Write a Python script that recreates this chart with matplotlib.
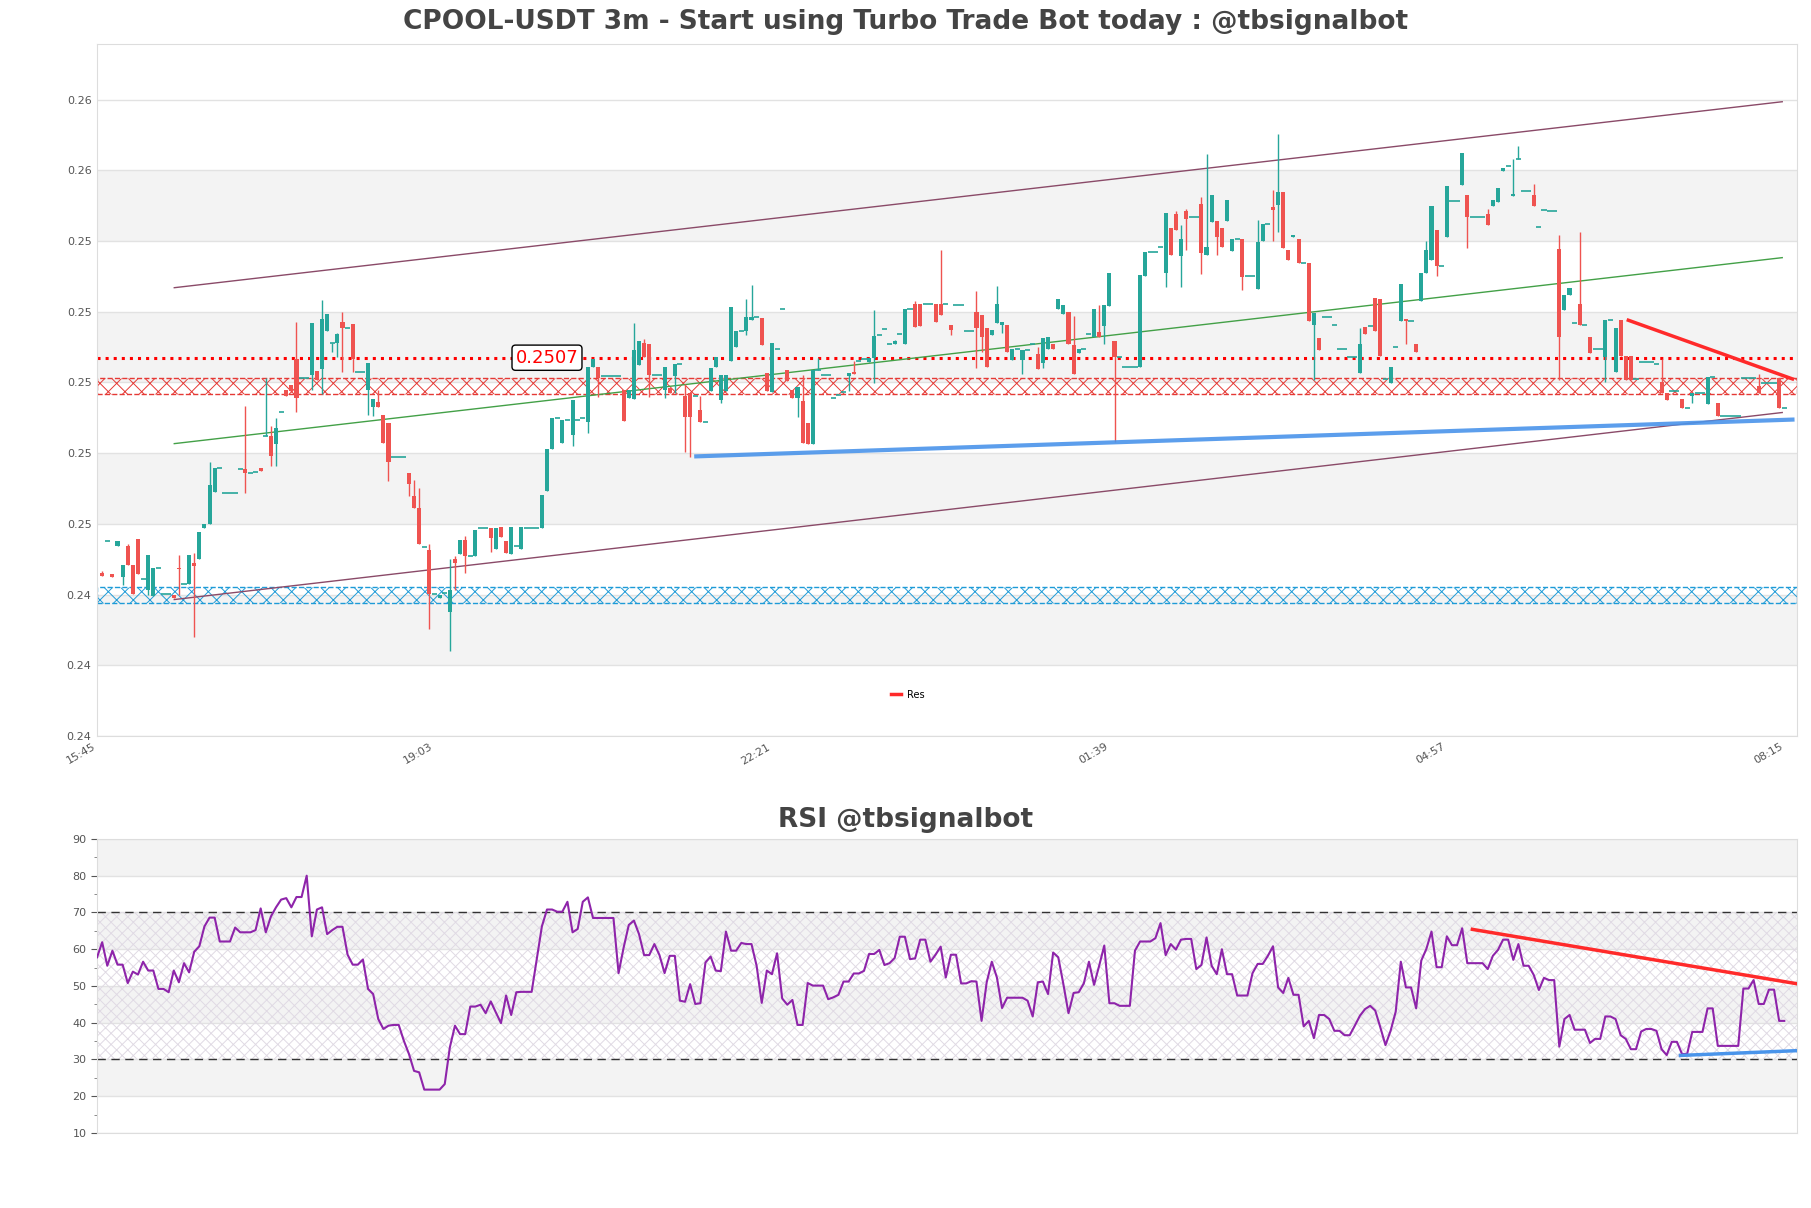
import numpy as np
import matplotlib.pyplot as plt
from matplotlib.ticker import FormatStrFormatter, MultipleLocator

# ---- candle data (3m candles) ----
opens = [
    .24460, .24551, .24459, .24537, .24450, .24537, .24485, .24556, .24444, .24412,
    .24397, .24474, .24403, .24403, .24400, .24475, .24431, .24431, .24490, .24501,
    .24589, .24601, .24690, .24759, .24686, .24686, .24686, .24754, .24754, .24744,
    .24746, .24759, .24848, .24848, .24825, .24916, .24980, .24994, .25065, .25013,
    .25013, .25020, .25032, .25039, .25145, .25112, .25112, .25172, .25155, .25166,
    .25030, .25030, .24978, .24930, .24945, .24908, .24884, .24790, .24790, .24790,
    .24744, .24678, .24644, .24534, .24525, .24403, .24391, .24405, .24350, .24501,
    .24516, .24554, .24510, .24508, .24589, .24589, .24589, .24528, .24592, .24551,
    .24516, .24537, .24528, .24588, .24588, .24588, .24588, .24693, .24813, .24899,
    .24829, .24894, .24851, .24894, .24899, .24889, .25045, .25045, .25017, .25017,
    .25017, .25017, .24980, .24955, .24953, .25050, .25112, .25110, .25020, .25020,
    .24980, .24985, .25017, .25052, .24962, .24970, .24963, .24922, .24889, .24977,
    .25043, .24951, .24977, .25060, .25100, .25145, .25145, .25178, .25186, .25183,
    .25027, .24973, .25095, .25207, .25036, .24979, .24957, .24948, .24884, .24827,
    .25036, .25020, .25020, .24957, .24965, .24972, .25017, .25031, .25062, .25067,
    .25058, .25069, .25133, .25150, .25110, .25110, .25136, .25109, .25209, .25221,
    .25221, .25221, .25221, .25221, .25221, .25222, .25162, .25219, .25219, .25146,
    .25146, .25200, .25191, .25153, .25134, .25169, .25162, .25162, .25064, .25094,
    .25064, .25092, .25109, .25080, .25056, .25094, .25109, .25207, .25193, .25200,
    .25106, .25084, .25094, .25137, .25129, .25144, .25160, .25217, .25118, .25073,
    .25043, .25043, .25043, .25045, .25302, .25368, .25368, .25382, .25310, .25438,
    .25476, .25357, .25485, .25468, .25468, .25504, .25360, .25454, .25456, .25438,
    .25457, .25371, .25407, .25407, .25301, .25301, .25263, .25400, .25449, .25496,
    .25501, .25539, .25374, .25410, .25405, .25338, .25339, .25162, .25125, .25184,
    .25184, .25162, .25096, .25096, .25073, .25073, .25026, .25156, .25159, .25238,
    .25236, .25010, .24999, .25100, .25173, .25180, .25173, .25110, .25229, .25311,
    .25346, .25431, .25328, .25410, .25514, .25514, .25558, .25530, .25469, .25469,
    .25469, .25476, .25499, .25511, .25598, .25612, .25527, .25633, .25541, .25541,
    .25530, .25440, .25489, .25485, .25485, .25377, .25206, .25246, .25168, .25223,
    .25163, .25129, .25095, .25095, .25072, .25177, .25029, .25177, .25074, .25074,
    .25010, .25058, .25058, .25058, .25053, .25002, .24971, .24977, .24977, .24952,
    .24929, .24962, .24971, .24971, .24938, .25016, .24943, .24905, .24905, .24905,
    .24905, .25013, .25013, .25013, .24990, .24999, .24999, .24999, .25013, .24929,
]
closes = [
    .24452, .24551, .24450, .24553, .24485, .24485, .24403, .24457, .24444, .24513,
    .24474, .24474, .24403, .24403, .24389, .24472, .24431, .24513, .24480, .24576,
    .24601, .24711, .24759, .24759, .24686, .24686, .24686, .24754, .24744, .24744,
    .24746, .24749, .24848, .24793, .24872, .24916, .24963, .24975, .24957, .25013,
    .25013, .25169, .25006, .25180, .25194, .25112, .25136, .25153, .25155, .25067,
    .25030, .25030, .25056, .24954, .24930, .24829, .24775, .24790, .24790, .24790,
    .24714, .24644, .24542, .24534, .24403, .24403, .24400, .24405, .24412, .24490,
    .24554, .24510, .24510, .24584, .24589, .24589, .24561, .24589, .24563, .24518,
    .24592, .24537, .24592, .24588, .24588, .24588, .24683, .24813, .24899, .24899,
    .24894, .24894, .24951, .24894, .24899, .25045, .25067, .25012, .25017, .25017,
    .25017, .25017, .24892, .24980, .25093, .25118, .25072, .25020, .25020, .25020,
    .25045, .24970, .25052, .25052, .24903, .24903, .24963, .24889, .24889, .25041,
    .25072, .25022, .25020, .25214, .25145, .25145, .25186, .25186, .25186, .25107,
    .24977, .25112, .25095, .25207, .25003, .24957, .24988, .24830, .24827, .25036,
    .25036, .25020, .25020, .24957, .24965, .24972, .25028, .25024, .25062, .25067,
    .25069, .25131, .25133, .25150, .25110, .25116, .25136, .25209, .25209, .25157,
    .25159, .25221, .25221, .25171, .25192, .25222, .25148, .25219, .25219, .25146,
    .25146, .25153, .25129, .25043, .25148, .25222, .25172, .25087, .25094, .25094,
    .25092, .25092, .25109, .25037, .25125, .25128, .25094, .25235, .25219, .25109,
    .25024, .25094, .25094, .25137, .25209, .25128, .25219, .25311, .25073, .25073,
    .25043, .25043, .25043, .25304, .25368, .25368, .25368, .25382, .25480, .25360,
    .25432, .25405, .25461, .25468, .25468, .25367, .25384, .25529, .25412, .25384,
    .25517, .25407, .25407, .25299, .25301, .25301, .25398, .25449, .25449, .25489,
    .25539, .25379, .25346, .25418, .25338, .25338, .25175, .25197, .25092, .25184,
    .25184, .25162, .25096, .25096, .25073, .25073, .25109, .25137, .25159, .25145,
    .25074, .25010, .25044, .25100, .25279, .25173, .25173, .25085, .25311, .25375,
    .25499, .25330, .25328, .25555, .25514, .25514, .25649, .25469, .25469, .25469,
    .25469, .25445, .25517, .25551, .25607, .25612, .25534, .25633, .25541, .25541,
    .25499, .25440, .25489, .25485, .25485, .25129, .25248, .25267, .25168, .25163,
    .25163, .25084, .25095, .25095, .25177, .25177, .25154, .25074, .25008, .25007,
    .25010, .25058, .25058, .25058, .25053, .24971, .24950, .24977, .24977, .24929,
    .24929, .24969, .24971, .24971, .25016, .25016, .24905, .24905, .24905, .24905,
    .24905, .25013, .25013, .25013, .24971, .24999, .24999, .24999, .24929, .24929,
]
highs = [
    .24468, .24551, .24459, .24553, .24485, .24542, .24485, .24556, .24444, .24513,
    .24474, .24474, .24403, .24403, .24400, .24513, .24431, .24513, .24518, .24576,
    .24601, .24775, .24759, .24759, .24686, .24686, .24686, .24754, .24933, .24744,
    .24746, .24759, .25013, .24877, .24900, .24916, .24980, .24994, .25171, .25013,
    .25013, .25169, .25032, .25232, .25194, .25112, .25140, .25200, .25155, .25166,
    .25030, .25030, .25056, .24954, .24978, .24908, .24884, .24790, .24790, .24790,
    .24744, .24723, .24702, .24534, .24542, .24403, .24400, .24405, .24501, .24508,
    .24554, .24566, .24510, .24584, .24589, .24589, .24589, .24589, .24592, .24551,
    .24592, .24537, .24592, .24588, .24588, .24588, .24683, .24813, .24899, .24899,
    .24894, .24894, .24951, .24894, .24899, .25045, .25067, .25045, .25017, .25017,
    .25017, .25017, .24980, .24980, .25169, .25118, .25124, .25110, .25020, .25020,
    .25045, .24985, .25052, .25052, .24995, .24970, .24963, .24962, .24889, .25041,
    .25072, .25022, .25020, .25214, .25145, .25145, .25235, .25275, .25186, .25183,
    .25027, .25112, .25095, .25207, .25036, .24979, .24988, .25020, .24884, .25036,
    .25069, .25020, .25020, .24957, .24965, .24972, .25028, .25062, .25062, .25067,
    .25069, .25204, .25133, .25150, .25110, .25120, .25136, .25209, .25209, .25230,
    .25221, .25221, .25221, .25221, .25374, .25222, .25162, .25219, .25219, .25146,
    .25146, .25260, .25191, .25153, .25148, .25273, .25172, .25162, .25094, .25094,
    .25092, .25092, .25109, .25100, .25125, .25128, .25109, .25235, .25219, .25200,
    .25187, .25094, .25094, .25137, .25209, .25220, .25219, .25311, .25118, .25073,
    .25043, .25043, .25043, .25304, .25368, .25368, .25368, .25382, .25480, .25438,
    .25485, .25445, .25490, .25468, .25468, .25525, .25647, .25529, .25456, .25438,
    .25517, .25407, .25407, .25407, .25301, .25301, .25459, .25449, .25449, .25543,
    .25702, .25539, .25374, .25418, .25405, .25338, .25339, .25197, .25125, .25184,
    .25184, .25162, .25096, .25096, .25073, .25073, .25153, .25156, .25159, .25238,
    .25236, .25010, .25044, .25100, .25279, .25180, .25173, .25110, .25311, .25400,
    .25499, .25431, .25328, .25555, .25514, .25514, .25649, .25530, .25469, .25469,
    .25469, .25490, .25517, .25551, .25607, .25612, .25633, .25668, .25541, .25541,
    .25561, .25440, .25489, .25485, .25485, .25417, .25248, .25267, .25168, .25426,
    .25163, .25129, .25095, .25095, .25177, .25177, .25154, .25177, .25074, .25074,
    .25010, .25058, .25058, .25058, .25053, .25067, .24971, .24977, .24977, .24952,
    .24929, .24969, .24971, .24971, .25016, .25016, .24943, .24905, .24905, .24905,
    .24905, .25013, .25013, .25013, .25023, .24999, .24999, .24999, .25013, .24929,
]
lows = [
    .24452, .24551, .24450, .24537, .24428, .24485, .24403, .24457, .24444, .24400,
    .24397, .24474, .24403, .24403, .24389, .24400, .24431, .24431, .24279, .24501,
    .24589, .24601, .24690, .24759, .24686, .24686, .24686, .24754, .24686, .24744,
    .24746, .24749, .24848, .24763, .24763, .24916, .24963, .24975, .24916, .25013,
    .25013, .24978, .25006, .24966, .25145, .25086, .25073, .25030, .25155, .25030,
    .25030, .25030, .24908, .24906, .24930, .24829, .24721, .24790, .24790, .24790,
    .24678, .24644, .24542, .24534, .24303, .24403, .24391, .24405, .24240, .24414,
    .24516, .24461, .24510, .24508, .24589, .24589, .24520, .24528, .24563, .24518,
    .24516, .24537, .24528, .24588, .24588, .24588, .24588, .24693, .24813, .24899,
    .24829, .24894, .24820, .24894, .24899, .24858, .25045, .24960, .25017, .25017,
    .25017, .25017, .24892, .24955, .24953, .25050, .25072, .24960, .25020, .25020,
    .24955, .24970, .24970, .25052, .24804, .24790, .24963, .24889, .24889, .24977,
    .25043, .24942, .24977, .25060, .25100, .25145, .25135, .25178, .25186, .25107,
    .24977, .24973, .25095, .25207, .25003, .24957, .24902, .24830, .24827, .24827,
    .25036, .25020, .25020, .24957, .24965, .24972, .24975, .25024, .25062, .25067,
    .25058, .24999, .25133, .25150, .25110, .25110, .25136, .25109, .25209, .25157,
    .25159, .25221, .25221, .25171, .25192, .25222, .25135, .25219, .25219, .25146,
    .25146, .25040, .25085, .25043, .25134, .25169, .25140, .25087, .25064, .25094,
    .25023, .25092, .25109, .25037, .25040, .25094, .25094, .25207, .25193, .25109,
    .25024, .25084, .25094, .25137, .25129, .25128, .25110, .25217, .24833, .25073,
    .25043, .25043, .25043, .25045, .25302, .25368, .25368, .25382, .25270, .25360,
    .25432, .25270, .25375, .25468, .25468, .25306, .25360, .25454, .25360, .25384,
    .25457, .25371, .25407, .25262, .25301, .25301, .25263, .25400, .25449, .25400,
    .25425, .25379, .25346, .25410, .25338, .25338, .25175, .25007, .25092, .25184,
    .25184, .25162, .25096, .25096, .25073, .25073, .25026, .25137, .25159, .25145,
    .25074, .25010, .24999, .25100, .25173, .25109, .25173, .25085, .25229, .25311,
    .25346, .25301, .25328, .25410, .25514, .25514, .25558, .25380, .25469, .25469,
    .25469, .25445, .25499, .25511, .25598, .25612, .25527, .25633, .25541, .25541,
    .25499, .25440, .25489, .25485, .25485, .25008, .25206, .25246, .25168, .25163,
    .25163, .25084, .25095, .25095, .25000, .25177, .25029, .25074, .25008, .25007,
    .25010, .25058, .25058, .25058, .25053, .24971, .24950, .24977, .24977, .24929,
    .24929, .24941, .24971, .24971, .24938, .25016, .24905, .24905, .24905, .24905,
    .24905, .25013, .25013, .25013, .24971, .24999, .24999, .24999, .24929, .24929,
]

# RSI values, one per bar position (starts one bar before the first candle)
rsi = [
    57.8, 61.9, 55.5, 59.6, 55.8, 55.8, 50.8, 53.9, 53.1, 56.6,
    54.2, 54.2, 49.2, 49.2, 48.3, 54.2, 51.0, 56.2, 53.7, 59.3,
    60.8, 66.2, 68.6, 68.6, 62.1, 62.1, 62.1, 65.9, 64.6, 64.6,
    64.6, 65.2, 71.1, 64.6, 68.9, 71.4, 73.5, 73.9, 71.4, 74.2,
    74.2, 80.0, 63.5, 70.8, 71.4, 64.1, 65.2, 66.1, 66.1, 58.5,
    55.8, 55.8, 57.2, 49.2, 47.8, 41.0, 38.3, 39.2, 39.4, 39.4,
    35.1, 31.5, 26.9, 26.5, 21.8, 21.8, 21.8, 21.8, 23.3, 33.3,
    39.2, 36.9, 36.9, 44.4, 44.4, 44.9, 42.6, 45.8, 42.8, 39.9,
    47.4, 42.1, 48.3, 48.4, 48.4, 48.4, 57.3, 66.2, 70.8, 70.8,
    70.2, 70.2, 72.9, 64.6, 65.5, 72.9, 74.1, 68.5, 68.5, 68.5,
    68.5, 68.5, 53.5, 60.5, 66.6, 67.8, 64.1, 58.4, 58.4, 61.4,
    58.4, 53.5, 58.2, 58.2, 46.0, 45.7, 50.5, 45.1,
    45.3, 56.4, 58.0, 54.2, 54.0, 64.8, 59.6, 59.6, 61.7, 61.4,
    61.4, 55.5, 45.4, 54.2, 53.2, 58.9, 46.6, 44.9, 46.2, 39.4,
    39.4, 50.8, 50.1, 50.1, 50.1, 46.4, 46.9, 47.6, 51.2, 51.2,
    53.4, 53.4, 54.1, 58.7, 58.7, 59.8, 55.7, 56.2, 57.6, 63.4,
    63.4, 57.3, 57.5, 62.6, 62.6, 56.6, 58.5, 60.7, 52.3, 58.5,
    58.5, 50.7, 50.7, 51.3, 51.2, 40.5, 51.0, 56.6, 52.3, 44.0,
    46.8, 46.8, 46.8, 46.8, 46.0, 41.7, 51.0, 51.2, 47.8, 59.1,
    57.8, 50.5, 42.6, 48.1, 48.3, 50.7, 56.6, 50.3, 55.5, 61.0,
    45.3, 45.3, 44.6, 44.6, 44.6, 59.6, 62.1, 62.1, 62.1, 63.0,
    67.1, 58.4, 61.4, 59.9, 62.6, 62.8, 62.8, 54.6, 55.7, 63.2,
    55.5, 53.2, 60.0, 53.2, 53.2, 47.4, 47.4, 47.4, 53.5, 56.0,
    56.0, 58.2, 60.8, 49.6, 48.1, 52.2,
    47.6, 47.6, 39.0, 40.5, 35.8, 42.1, 42.1, 41.0, 37.8, 37.8,
    36.6, 36.6, 39.2, 41.9, 43.7, 44.6, 43.3, 38.7, 33.9, 37.8,
    43.0, 56.6, 49.6, 49.6, 43.9, 56.9, 60.1, 64.8, 55.1, 55.1,
    63.5, 61.1, 61.1, 65.7, 56.2, 56.2, 56.2, 56.2, 54.6, 58.2,
    59.8, 62.6, 62.6, 57.1, 61.4, 55.5, 55.5, 53.0, 48.9, 52.2,
    51.6, 51.6, 33.5, 41.0, 42.1, 38.1, 38.1, 38.1, 34.5, 35.6,
    35.6, 41.7, 41.7, 41.0, 36.6, 35.6, 32.8, 32.8, 37.6, 38.3,
    38.3, 37.8, 32.8, 31.2, 34.8, 34.8, 31.5, 31.5, 37.5, 37.5,
    37.5, 43.9, 43.9, 33.7, 33.7, 33.7, 33.7, 33.7, 49.3, 49.3,
    51.6, 45.1, 45.1, 49.0, 49.0, 40.5, 40.5,
]

time_labels = ['15:45', '19:03', '22:21', '01:39', '04:57', '08:15']
tick_pos = [0, 66, 132, 198, 264, 330]

# trend lines (bar index, price)
chan_x = [15.1, 329.6]
chan_upper = [0.25268, 0.25794]
chan_mid = [0.24827, 0.25353]
chan_lower = [0.24386, 0.24915]
sup_x = [117.2, 331.6]
sup_y = [0.24791, 0.24895]
res_x = [299.5, 331.6]
res_y = [0.25176, 0.25010]
res_level = 0.2507
res_zone = [0.24967, 0.25013]
sup_zone = [0.24376, 0.24422]

# RSI trend lines
rsi_res_x = [269, 332.5]
rsi_res_y = [65.4, 50.6]
rsi_sup_x = [309.7, 332.5]
rsi_sup_y = [31.1, 32.4]

UP = '#26a69a'
DOWN = '#ef5350'
GRID = '#e2e2e2'
BAND = '#f3f3f3'

plt.rcParams['hatch.linewidth'] = 0.7

fig = plt.figure(figsize=(18.11, 12.08), dpi=100)
ax = fig.add_axes([0.0536, 0.3907, 0.9387, 0.5728])
rx = fig.add_axes([0.0536, 0.0621, 0.9387, 0.2434])

# ---------- price panel ----------
o = np.array(opens)
c = np.array(closes)
h = np.array(highs)
l = np.array(lows)
x = np.arange(1, len(o) + 1)
col = np.where(c < o, DOWN, UP)
flat = c == o

for y0 in [0.242, 0.246, 0.250, 0.254]:
    ax.axhspan(y0, y0 + 0.002, color=BAND, zorder=0, lw=0)

ax.axhspan(res_zone[0], res_zone[1], fill=False, hatch='xx', edgecolor='#e53935',
           linestyle='--', lw=1, zorder=1)
ax.axhspan(sup_zone[0], sup_zone[1], fill=False, hatch='xx', edgecolor='#1e9bd7',
           linestyle='--', lw=1, zorder=1)
ax.axhline(res_level, color='#ff0000', ls=':', lw=2.2, zorder=2)

ax.plot(chan_x, chan_upper, color='#8a4a68', lw=1, zorder=2)
ax.plot(chan_x, chan_lower, color='#8a4a68', lw=1, zorder=2)
ax.plot(chan_x, chan_mid, color='#43a047', lw=1, zorder=2)

ax.vlines(x, l, h, color=col, lw=1, zorder=3)
ax.bar(x[~flat], (c - o)[~flat], bottom=o[~flat], width=0.8, color=col[~flat], zorder=4)
ax.hlines(c[flat], x[flat] - 0.5, x[flat] + 0.5, color=col[flat], lw=1.2, zorder=4)

ax.plot(sup_x, sup_y, color='#4a94ea', lw=3, alpha=0.9, zorder=5)
ax.plot(res_x, res_y, color='#ff2a2a', lw=2.5, zorder=5, label='Res')

ax.text(88, res_level, '0.2507', color='#ff0000', fontsize=13, ha='center', va='center',
        zorder=6, bbox=dict(boxstyle='round,pad=0.2', fc='white', ec='black', lw=1))

ax.set_xlim(0, 332.5)
ax.set_ylim(0.240, 0.25957)
ax.set_yticks(np.arange(0.240, 0.2581, 0.002))
ax.yaxis.set_major_formatter(FormatStrFormatter('%.2f'))
ax.set_xticks(tick_pos)
ax.set_xticklabels(time_labels, rotation=30, ha='right')
ax.grid(axis='y', color=GRID, lw=1)
ax.set_axisbelow(True)
ax.tick_params(axis='both', labelsize=8, colors='#555', length=0, pad=4)
for s in ax.spines.values():
    s.set_color('#dddddd')

ax.legend(loc='lower center', bbox_to_anchor=(0.477, 0.04), frameon=False, fontsize=7,
          handlelength=1, handletextpad=0.6)

# ---------- RSI panel ----------
for y0 in [20, 40, 60, 80]:
    rx.axhspan(y0, y0 + 10, color=BAND, zorder=0, lw=0)
rx.axhspan(30, 70, facecolor='none', hatch='xxx', edgecolor='#e0dae4', lw=0, zorder=1)
rx.axhline(70, color='#333', ls=(0, (6, 4)), lw=1, zorder=2)
rx.axhline(30, color='#333', ls=(0, (6, 4)), lw=1, zorder=2)
rx.plot(np.arange(len(rsi)), rsi, color='#8e24aa', lw=1.5, zorder=3)
rx.plot(rsi_res_x, rsi_res_y, color='#ff2a2a', lw=2.5, zorder=4)
rx.plot(rsi_sup_x, rsi_sup_y, color='#4a94ea', lw=2.5, zorder=4)

rx.set_xlim(0, 332.5)
rx.set_ylim(10, 90)
rx.yaxis.set_major_locator(MultipleLocator(10))
rx.yaxis.set_minor_locator(MultipleLocator(5))
rx.set_xticks([])
rx.grid(axis='y', color=GRID, lw=1)
rx.set_axisbelow(True)
rx.tick_params(axis='y', labelsize=8, colors='#555', length=4)
rx.tick_params(axis='y', which='minor', length=2, colors='#777')
for s in rx.spines.values():
    s.set_color('#dddddd')

fig.text(0.5, 0.982, 'CPOOL-USDT 3m - Start using Turbo Trade Bot today : @tbsignalbot',
         ha='center', va='center', fontsize=19, fontweight='bold', color='#444')
fig.text(0.5, 0.321, 'RSI @tbsignalbot', ha='center', va='center', fontsize=19,
         fontweight='bold', color='#444')

fig.savefig('out.png', dpi=100)
